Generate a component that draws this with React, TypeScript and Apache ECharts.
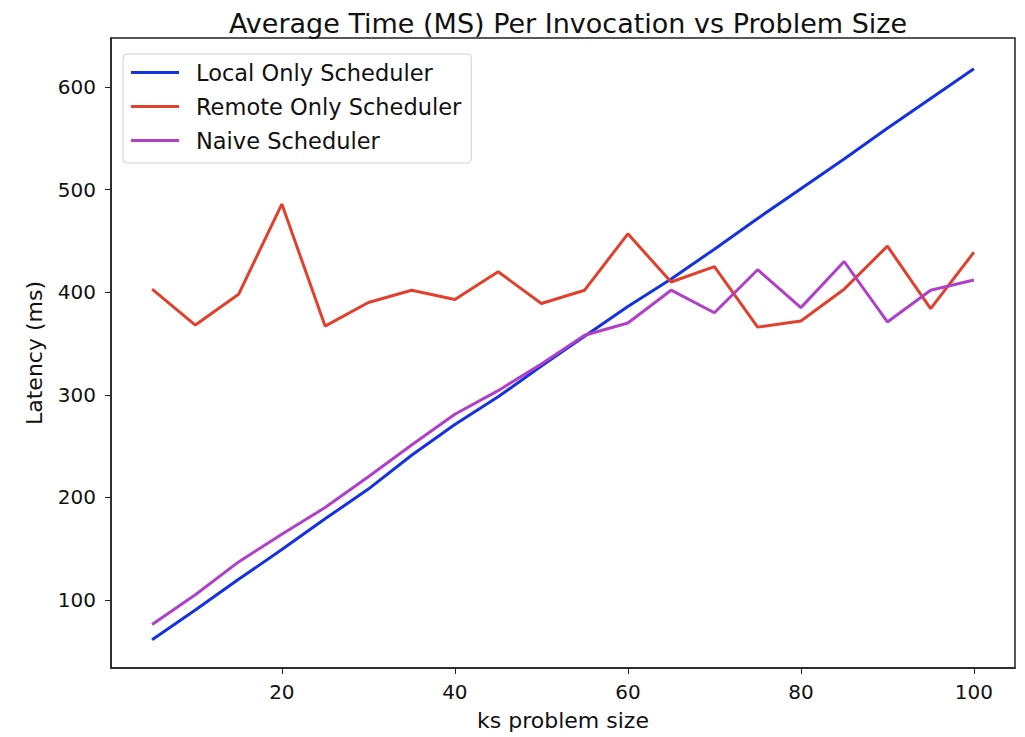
import React, { useEffect, useRef } from "react";
import * as echarts from "echarts";

const problemSizes = [5, 10, 15, 20, 25, 30, 35, 40, 45, 50, 55, 60, 65, 70, 75, 80, 85, 90, 95, 100];
const localOnly = [61, 90, 120, 149, 179, 208, 241, 271, 298, 328, 357, 386, 413, 442, 472, 501, 530, 560, 589, 618];
const remoteOnly = [403, 368, 398, 486, 367, 390, 402, 393, 420, 389, 402, 457, 410, 425, 366, 372, 403, 445, 384, 439];
const naive = [76, 105, 137, 164, 190, 220, 251, 281, 304, 330, 358, 370, 402, 380, 422, 385, 430, 371, 402, 412];
const xTicks = [20, 40, 60, 80, 100];
const yTicks = [100, 200, 300, 400, 500, 600];

const seriesNames = ["Local Only Scheduler", "Remote Only Scheduler", "Naive Scheduler"];
const seriesColors = ["#1432e0", "#e0402c", "#b040c8"];

export default function App() {
  const ref = useRef<HTMLDivElement>(null);
  useEffect(() => {
    if (!ref.current) return;
    const chart = echarts.init(ref.current, undefined, { renderer: "svg" });
    const font = "DejaVu Sans";
    const mk = (vals: number[]) => problemSizes.map((x, i) => [x, vals[i]]);
    const allVals = [localOnly, remoteOnly, naive];
    chart.setOption({
      animation: false,
      backgroundColor: "#ffffff",
      title: {
        text: "Average Time (MS) Per Invocation vs Problem Size",
        left: 563,
        textAlign: "center",
        top: 5,
        textStyle: { fontFamily: font, fontSize: 27, fontWeight: "normal", color: "#111" },
      },
      legend: {
        orient: "vertical",
        left: 123,
        top: 54,
        padding: [7, 10, 11, 8],
        backgroundColor: "#ffffff",
        borderColor: "#d0d0d0",
        borderWidth: 1,
        borderRadius: 4,
        itemWidth: 48,
        itemHeight: 3,
        itemGap: 11,
        icon: "rect",
        textStyle: { fontFamily: font, fontSize: 22.5, color: "#111", padding: [0, 0, 0, 12] },
        data: seriesNames,
      },
      grid: {
        left: 111,
        right: 10,
        top: 38,
        bottom: 69,
        show: true,
        borderColor: "#222",
        borderWidth: 1.5,
        backgroundColor: "transparent",
      },
      xAxis: {
        type: "value",
        min: 0.25,
        max: 104.75,
        name: "ks problem size",
        nameLocation: "middle",
        nameGap: 41,
        nameTextStyle: { fontFamily: font, fontSize: 22, color: "#111" },
        axisLine: { show: true, lineStyle: { color: "#222", width: 1.5 } },
        axisTick: { show: true, inside: false, length: 6, customValues: xTicks, lineStyle: { color: "#222" } },
        axisLabel: { customValues: xTicks, fontFamily: font, fontSize: 20, color: "#111", margin: 14 },
        splitLine: { show: false },
      },
      yAxis: {
        type: "value",
        min: 33.5,
        max: 648,
        name: "Latency (ms)",
        nameLocation: "middle",
        nameGap: 66,
        nameTextStyle: { fontFamily: font, fontSize: 22, color: "#111" },
        axisLine: { show: true, lineStyle: { color: "#222", width: 1.5 } },
        axisTick: { show: true, inside: false, length: 6, customValues: yTicks, lineStyle: { color: "#222" } },
        axisLabel: { customValues: yTicks, fontFamily: font, fontSize: 20, color: "#111", margin: 15 },
        splitLine: { show: false },
      },
      series: seriesNames.map((name, i) => ({
        name,
        type: "line",
        data: mk(allVals[i]),
        showSymbol: false,
        symbol: "none",
        color: seriesColors[i],
        lineStyle: { color: seriesColors[i], width: 3 },
        itemStyle: { color: seriesColors[i] },
        z: 2 + i,
      })),
    });
    return () => chart.dispose();
  }, []);
  return <div ref={ref} style={{ width: 1025, height: 737, position: "absolute", left: 0, top: 0 }} />;
}
